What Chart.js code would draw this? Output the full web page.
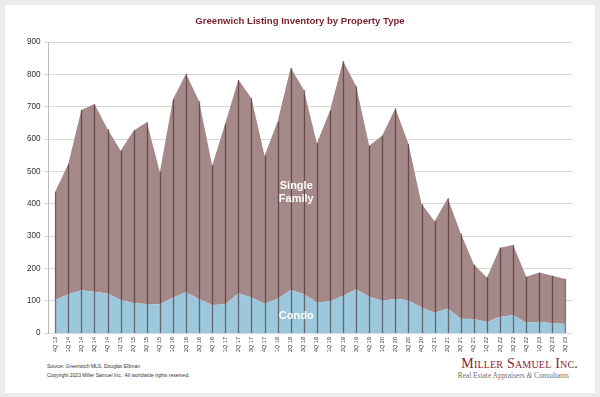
<!DOCTYPE html>
<html>
<head>
<meta charset="utf-8">
<title>Greenwich Listing Inventory by Property Type</title>
<script src="https://cdn.jsdelivr.net/npm/chart.js@4/dist/chart.umd.min.js"></script>
<style>
    html, body { margin: 0; padding: 0; }
    body { width: 600px; height: 397px; background: #ececec; position: relative; overflow: hidden; font-family: "Liberation Sans", Arial, sans-serif; }
    .card { position: absolute; left: 5px; top: 5px; width: 590px; height: 388px; background: #ffffff; }
    .chart-box { position: absolute; left: 0; top: 0; width: 600px; height: 356px; }
    .title { position: absolute; left: 0; width: 600px; top: 15px; text-align: center; font-weight: bold; font-size: 9.6px; color: #7a1f2d; }
    .source { position: absolute; left: 47px; top: 362px; font-size: 5px; color: #333; line-height: 8.6px; }
    .logo { position: absolute; left: 430px; width: 148px; top: 357px; text-align: right; font-family: "Liberation Serif", "Times New Roman", serif; }
    .logo .name { font-variant: small-caps; font-size: 14px; color: #8c2232; letter-spacing: 0.2px; line-height: 14px; }
    .logo .tag { font-size: 7.4px; color: #707070; line-height: 10px; margin-right: 9px; }
    .logo .tag i { font-style: italic; }
</style>
</head>
<body>
<div class="card"></div>
<div class="chart-box"><canvas id="inventoryChart"></canvas></div>
<div class="title">Greenwich Listing Inventory by Property Type</div>
<div class="source">Source: Greenwich MLS, Douglas Elliman<br>Copyright 2023 Miller Samuel Inc.&nbsp; All worldwide rights reserved.</div>
<div class="logo">
    <div class="name">Miller Samuel Inc.</div>
    <div class="tag">Real Estate Appraisers <i>&amp;</i> Consultants</div>
</div>

<script>
// quarters on the x axis
const quarters = [
    '4Q 13',
    '1Q 14', '2Q 14', '3Q 14', '4Q 14',
    '1Q 15', '2Q 15', '3Q 15', '4Q 15',
    '1Q 16', '2Q 16', '3Q 16', '4Q 16',
    '1Q 17', '2Q 17', '3Q 17', '4Q 17',
    '1Q 18', '2Q 18', '3Q 18', '4Q 18',
    '1Q 19', '2Q 19', '3Q 19', '4Q 19',
    '1Q 20', '2Q 20', '3Q 20', '4Q 20',
    '1Q 21', '2Q 21', '3Q 21', '4Q 21',
    '1Q 22', '2Q 22', '3Q 22', '4Q 22',
    '1Q 23', '2Q 23', '3Q 23'
];

// condo listings (bottom layer)
const condo = [
    102,
    120, 132, 128, 122,
    102, 93, 90, 89,
    110, 126, 105, 87,
    89, 123, 110, 91,
    106, 133, 121, 94,
    98, 115, 135, 112,
    100, 105, 101, 79,
    63, 76, 44, 43,
    34, 50, 55, 32,
    35, 30, 28
];

// single family listings (stacked on condo)
const singleFamily = [
    335,
    403, 558, 580, 509,
    462, 533, 562, 409,
    613, 676, 612, 431,
    559, 660, 616, 457,
    548, 687, 631, 493,
    589, 726, 629, 467,
    511, 590, 484, 320,
    283, 341, 264, 169,
    138, 214, 217, 142,
    152, 147, 139
];

// y axis ticks
const yMin = 0;
const yMax = 900;
const yStep = 100;

document.addEventListener('DOMContentLoaded', () => {

    const ctx = document.getElementById('inventoryChart').getContext('2d');

    // vertical drop lines from 0 up to the stacked total at every quarter
    const dropLines = {
        id: 'dropLines',
        afterDatasetsDraw(chart) {
            const x = chart.scales.x;
            const y = chart.scales.y;
            const c = chart.ctx;
            c.save();
            c.strokeStyle = 'rgba(55, 25, 30, 0.55)';
            c.lineWidth = 1.3;
            quarters.forEach((q, i) => {
                const px = Math.round(x.getPixelForValue(i)) + 0.5;
                c.beginPath();
                c.moveTo(px, y.getPixelForValue(0));
                c.lineTo(px, y.getPixelForValue(condo[i] + singleFamily[i]));
                c.stroke();
            });
            c.restore();
        }
    };

    // white area labels inside the chart
    const areaLabels = {
        id: 'areaLabels',
        afterDatasetsDraw(chart) {
            const x = chart.scales.x;
            const y = chart.scales.y;
            const c = chart.ctx;
            c.save();
            c.fillStyle = '#ffffff';
            c.font = 'bold 11px "Liberation Sans", Arial, sans-serif';
            c.textAlign = 'center';
            c.textBaseline = 'middle';
            const cx = (x.getPixelForValue(18) + x.getPixelForValue(19)) / 2 - 1;
            c.fillText('Single', cx, y.getPixelForValue(455));
            c.fillText('Family', cx, y.getPixelForValue(415));
            c.fillText('Condo', cx, y.getPixelForValue(52));
            c.restore();
        }
    };

    new Chart(ctx, {
        type: 'line',
        data: {
            labels: quarters,
            datasets: [{
                label: 'Condo',
                data: condo,
                backgroundColor: '#9cc7dc',
                borderWidth: 0,
                pointRadius: 0,
                fill: 'origin',
                tension: 0
            }, {
                label: 'Single Family',
                data: singleFamily,
                backgroundColor: '#a58888',
                borderWidth: 0,
                pointRadius: 0,
                fill: '-1',
                tension: 0
            }]
        },
        options: {
            responsive: true,
            maintainAspectRatio: false,
            animation: false,
            layout: {
                padding: { left: 24, right: 28, top: 42, bottom: 0 }
            },
            plugins: {
                legend: { display: false },
                title: { display: false },
                tooltip: { enabled: false }
            },
            scales: {
                x: {
                    offset: true,
                    grid: { display: false, drawTicks: false },
                    border: { display: false },
                    ticks: {
                        autoSkip: false,
                        minRotation: 90,
                        maxRotation: 90,
                        padding: 4,
                        color: '#333',
                        font: { size: 5.5, family: '"Liberation Sans", Arial, sans-serif' }
                    }
                },
                y: {
                    stacked: true,
                    min: yMin,
                    max: yMax,
                    grid: { color: '#dadada', lineWidth: 1, tickLength: 5 },
                    border: { display: true, color: '#bbbbbb' },
                    ticks: {
                        stepSize: yStep,
                        padding: 3,
                        color: '#333',
                        font: { size: 8.2, family: '"Liberation Sans", Arial, sans-serif' }
                    }
                }
            }
        },
        plugins: [dropLines, areaLabels]
    });
});
</script>
</body>
</html>
